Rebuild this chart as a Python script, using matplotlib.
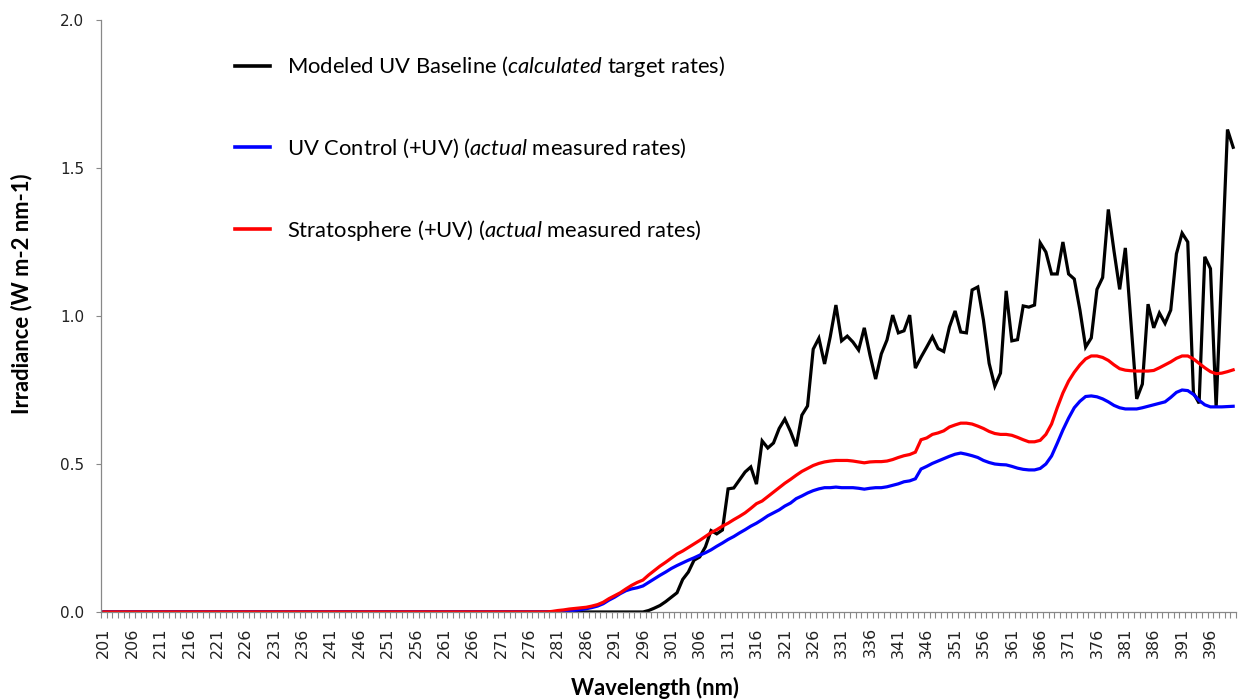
import numpy as np
import matplotlib
matplotlib.use("Agg")
import matplotlib.pyplot as plt
from matplotlib.ticker import FixedLocator, NullFormatter

# ---------------- data ----------------
wavelengths = list(range(201, 401))

# Modeled UV Baseline (zero until 296)
baseline_tail = [0.0, 0.005, 0.013, 0.022, 0.035, 0.05, 0.065, 0.11, 0.135, 0.175,   # 296-305
                 0.186, 0.22, 0.275, 0.264, 0.277, 0.416, 0.419, 0.446, 0.473, 0.49,  # 306-315
                 0.432, 0.578, 0.554, 0.571, 0.62, 0.652, 0.61, 0.56, 0.665, 0.696,   # 316-325
                 0.888, 0.925, 0.838, 0.93, 1.037, 0.916, 0.932, 0.912, 0.885, 0.96,  # 326-335
                 0.868, 0.787, 0.872, 0.919, 1.003, 0.943, 0.95, 1.003, 0.824, 0.861, # 336-345
                 0.895, 0.93, 0.89, 0.88, 0.963, 1.017, 0.946, 0.943, 1.088, 1.098,   # 346-355
                 0.986, 0.84, 0.763, 0.807, 1.085, 0.916, 0.92, 1.034, 1.03, 1.037,   # 356-365
                 1.247, 1.216, 1.142, 1.142, 1.25, 1.142, 1.125, 1.02, 0.895, 0.926,  # 366-375
                 1.09, 1.13, 1.36, 1.22, 1.09, 1.23, 0.975, 0.72, 0.77, 1.04,         # 376-385
                 0.96, 1.01, 0.975, 1.02, 1.21, 1.28, 1.25, 0.74, 0.705, 1.20,        # 386-395
                 1.16, 0.69, 1.16, 1.63, 1.57]                                        # 396-400
baseline = [0.0] * (296 - 201) + baseline_tail

# UV Control (+UV), zero until 281
control_tail = [0.0, 0.002, 0.004, 0.006, 0.008, 0.011, 0.015, 0.02, 0.028, 0.04,     # 281-290
                0.05, 0.062, 0.072, 0.078, 0.082, 0.088, 0.1, 0.112, 0.124, 0.135,     # 291-300
                0.147, 0.157, 0.166, 0.175, 0.183, 0.192, 0.2, 0.21, 0.222, 0.233,    # 301-310
                0.245, 0.255, 0.267, 0.278, 0.29, 0.30, 0.312, 0.325, 0.335, 0.345,   # 311-320
                0.358, 0.368, 0.383, 0.392, 0.402, 0.41, 0.416, 0.42, 0.42, 0.422,    # 321-330
                0.42, 0.42, 0.42, 0.418, 0.415, 0.418, 0.42, 0.42, 0.423, 0.428,      # 331-340
                0.433, 0.44, 0.443, 0.45, 0.483, 0.492, 0.502, 0.51, 0.518, 0.526,    # 341-350
                0.533, 0.537, 0.533, 0.528, 0.522, 0.512, 0.505, 0.5, 0.498, 0.497,   # 351-360
                0.492, 0.486, 0.482, 0.48, 0.48, 0.485, 0.5, 0.527, 0.57, 0.615,      # 361-370
                0.655, 0.69, 0.712, 0.728, 0.73, 0.727, 0.72, 0.71, 0.698, 0.69,      # 371-380
                0.686, 0.686, 0.686, 0.69, 0.695, 0.7, 0.705, 0.71, 0.725, 0.742,     # 381-390
                0.75, 0.748, 0.735, 0.715, 0.7, 0.693, 0.693, 0.693, 0.694, 0.695]    # 391-400
control = [0.0] * (281 - 201) + control_tail

# Stratosphere (+UV), zero until 279
strato_tail = [0.0, 0.002, 0.005, 0.007, 0.01, 0.012, 0.014, 0.016, 0.02, 0.025,      # 279-288
               0.033, 0.045, 0.055, 0.065, 0.078, 0.09, 0.1, 0.108, 0.125, 0.14,       # 289-298
               0.155, 0.168, 0.182, 0.196, 0.206, 0.218, 0.23, 0.242, 0.255, 0.268,   # 299-308
               0.278, 0.29, 0.30, 0.312, 0.323, 0.335, 0.35, 0.366, 0.375, 0.39,      # 309-318
               0.405, 0.42, 0.435, 0.448, 0.462, 0.475, 0.485, 0.495, 0.502, 0.507,   # 319-328
               0.51, 0.512, 0.512, 0.512, 0.51, 0.507, 0.504, 0.507, 0.508, 0.508,    # 329-338
               0.51, 0.515, 0.522, 0.528, 0.532, 0.54, 0.582, 0.588, 0.6, 0.605,      # 339-348
               0.612, 0.625, 0.632, 0.638, 0.638, 0.635, 0.628, 0.62, 0.61, 0.603,    # 349-358
               0.6, 0.6, 0.597, 0.59, 0.582, 0.575, 0.575, 0.58, 0.6, 0.635,          # 359-368
               0.69, 0.74, 0.78, 0.81, 0.835, 0.855, 0.865, 0.865, 0.86, 0.85,        # 369-378
               0.835, 0.822, 0.817, 0.815, 0.814, 0.814, 0.814, 0.816, 0.825, 0.835,  # 379-388
               0.845, 0.857, 0.865, 0.865, 0.855, 0.84, 0.825, 0.812, 0.805, 0.807,   # 389-398
               0.812, 0.818]                                                          # 399-400
strato = [0.0] * (279 - 201) + strato_tail

series_labels = [
    r"Modeled UV Baseline ($\it{calculated}$ target rates)",
    r"UV Control (+UV) ($\it{actual}$ measured rates)",
    r"Stratosphere (+UV) ($\it{actual}$ measured rates)",
]
series_colors = ["#000000", "#0000FF", "#FF0000"]
x_tick_labels = [str(v) for v in range(201, 400, 5)]
y_ticks = [0.0, 0.5, 1.0, 1.5, 2.0]

# ---------------- style ----------------
plt.rcParams["font.family"] = ["Lato", "DejaVu Sans"]
plt.rcParams["mathtext.fontset"] = "custom"
plt.rcParams["mathtext.rm"] = "Lato"
plt.rcParams["mathtext.it"] = "Lato:italic"

fig = plt.figure(figsize=(12.41, 7.0), dpi=100)
ax = fig.add_axes([101 / 1241, 88 / 700, 1135 / 1241, 592 / 700])

for ys, lab, col in zip([baseline, control, strato], series_labels, series_colors):
    ax.plot(wavelengths, ys, color=col, lw=2.3, label=lab, solid_joinstyle="miter")

ax.set_xlim(200.5, 400.5)
ax.set_ylim(0, 2.0)

# x ticks: labels every 5 categories, tick marks between every category
ax.set_xticks([int(s) for s in x_tick_labels])
ax.set_xticklabels(x_tick_labels, rotation=90, fontsize=11.5, family="DejaVu Sans", color="#222222")
ax.tick_params(axis="x", which="major", length=0, pad=11)
ax.xaxis.set_minor_locator(FixedLocator(np.arange(200.5, 401, 1.0)))
ax.xaxis.set_minor_formatter(NullFormatter())
ax.tick_params(axis="x", which="minor", length=4, width=0.8, color="#888888", direction="out")

ax.set_yticks(y_ticks)
ax.set_yticklabels([f"{v:.1f}" for v in y_ticks], fontsize=11, family="DejaVu Sans", color="#222222")
ax.tick_params(axis="y", which="major", length=3.6, width=0.8, color="#888888", direction="out", pad=8.5)

for side in ["top", "right"]:
    ax.spines[side].set_visible(False)
for side in ["left", "bottom"]:
    ax.spines[side].set_color("#888888")
    ax.spines[side].set_linewidth(0.9)

fig.text(655 / 1241, 1 - 688 / 700, "Wavelength (nm)", ha="center", va="center",
         fontsize=15.8, fontweight="bold")
fig.text(22 / 1241, 1 - 294 / 700, "Irradiance (W m-2 nm-1)", ha="center", va="center",
         rotation=90, fontsize=15.8, fontweight="bold")

leg = ax.legend(loc="upper left", bbox_to_anchor=(0.118, 0.942), frameon=False,
                fontsize=15.8, handlelength=1.6, handletextpad=0.78, labelspacing=2.62,
                borderpad=0, borderaxespad=0)
for line in leg.get_lines():
    line.set_linewidth(2.6)

fig.savefig("out.png", dpi=100)
